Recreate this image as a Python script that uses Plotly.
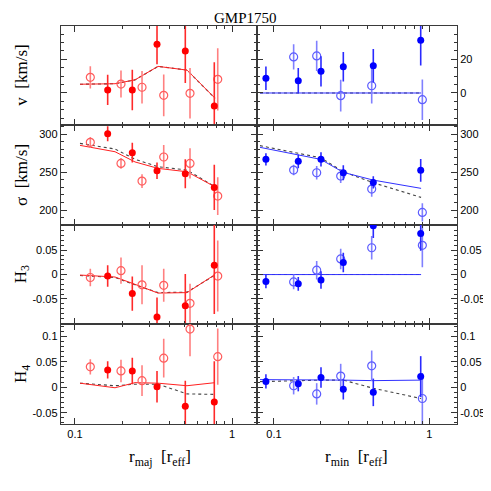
import plotly.graph_objects as go
from plotly.subplots import make_subplots

# radii of the data points and of the model curves
r_maj_fill = [0.1615, 0.2317, 0.3329, 0.504, 0.771]
r_maj_open = [0.1252, 0.1963, 0.2672, 0.3673, 0.540, 0.811]
r_maj_model = [0.1076, 0.1798, 0.2411, 0.3379, 0.5169, 0.7787]
r_min_fill = [0.0888, 0.1434, 0.2008, 0.2795, 0.4359, 0.880]
r_min_open = [0.1339, 0.1884, 0.2689, 0.4257, 0.9016]
r_min_model = [0.0813, 0.1386, 0.2, 0.2795, 0.4359, 0.885]

# v
v_maj_fill = [1.8, 1.8, 29.0, 24.9, -7.7]
v_maj_fill_err = [9, 12, 12, 19, 26]
v_maj_open = [9.3, 5.3, 3.4, -1.4, -0.2, 8.1]
v_maj_open_err = [6.6, 8, 9.7, 12.4, 15, 18.5]
v_maj_fit = [5.2, 5.5, 7.8, 15.8, 13.6, -3.1]
v_maj_fit2 = [5.2, 5.5, 7.8, 15.8, 13.6, -3.1]
v_min_fill = [8.7, 7.3, 12.9, 15.6, 16.2, 31.3]
v_min_fill_err = [7, 7.5, 9, 8.8, 10, 15]
v_min_open = [21.4, 22.0, -1.6, 4.3, -4.0]
v_min_open_err = [7.5, 9, 9.4, 10.6, 12]
v_min_fit = [0, 0, 0, 0, 0, 0]
v_min_fit2 = [0, 0, 0, 0, 0, 0]

# sigma
s_maj_fill = [300.8, 275.7, 251.9, 247.9, 229.9]
s_maj_fill_err = [10, 13, 11, 19, 30]
s_maj_open = [289.4, 261.6, 238.2, 270.0, 261.6, 218.4]
s_maj_open_err = [7, 7, 9, 16, 20, 25]
s_maj_fit = [285.4, 277.0, 263.5, 255.0, 250.5, 230.7]
s_maj_fit2 = [288.0, 280.6, 267.0, 257.2, 252.8, 230.7]
s_min_fill = [266.9, 264.3, 266.9, 249.2, 236.5, 252.4]
s_min_fill_err = [8, 9, 9.5, 10, 8, 15]
s_min_open = [252.8, 249.2, 244.8, 227.6, 196.8]
s_min_open_err = [7, 9, 9, 10, 12]
s_min_fit = [282.8, 273.5, 266.9, 249.7, 239.5, 228.6]
s_min_fit2 = [285.0, 275.7, 269.0, 250.5, 236.0, 216.7]

# H3
h3_maj_fill = [-0.003, -0.039, -0.087, -0.064, 0.019]
h3_maj_fill_err = [0.022, 0.035, 0.04, 0.065, 0.1]
h3_maj_open = [-0.006, 0.008, -0.021, -0.022, -0.059, -0.003]
h3_maj_open_err = [0.018, 0.027, 0.04, 0.034, 0.04, 0.073]
h3_maj_fit = [-0.001, -0.005, -0.02, -0.038, -0.037, 0.0]
h3_maj_fit2 = [-0.002, -0.006, -0.021, -0.037, -0.036, -0.001]
h3_min_fill = [-0.014, -0.019, -0.011, 0.025, 0.1, 0.084]
h3_min_fill_err = [0.014, 0.014, 0.018, 0.02, 0.025, 0.035]
h3_min_open = [-0.015, 0.009, 0.032, 0.055, 0.06]
h3_min_open_err = [0.015, 0.019, 0.021, 0.024, 0.045]
h3_min_fit = [0, 0, 0, 0, 0, 0]
h3_min_fit2 = [0, 0, 0, 0, 0, 0]

# H4
h4_maj_fill = [0.034, 0.032, 0.001, -0.037, -0.029]
h4_maj_fill_err = [0.017, 0.026, 0.031, 0.05, 0.08]
h4_maj_open = [0.04, 0.032, 0.013, 0.057, 0.114, 0.06]
h4_maj_open_err = [0.015, 0.022, 0.03, 0.038, 0.053, 0.055]
h4_maj_fit = [0.008, -0.001, 0.009, 0.008, 0.003, 0.009]
h4_maj_fit2 = [0.008, 0.003, 0.006, 0.006, -0.013, -0.014]
h4_min_fill = [0.0115, 0.007, 0.019, -0.004, -0.01, 0.021]
h4_min_fill_err = [0.014, 0.015, 0.02, 0.02, 0.027, 0.04]
h4_min_open = [0.003, -0.013, 0.022, 0.042, -0.022]
h4_min_open_err = [0.017, 0.021, 0.024, 0.03, 0.05]
h4_min_fit = [0.015, 0.015, 0.014, 0.014, 0.013, 0.014]
h4_min_fit2 = [0.011, 0.013, 0.014, 0.014, -0.002, -0.022]

# the page body has an 8px margin, so the figure is drawn 8px smaller and positions are shifted
OFF = 8
W = H = 491 - OFF
SERIF = 'Liberation Serif, Times New Roman, serif'
SANS = 'Liberation Sans, Arial, sans-serif'


def px_x(px):
    return (px - OFF) / W


def px_y(py):
    return 1 - (py - OFF) / H


fig = make_subplots(rows=4, cols=2, horizontal_spacing=0, vertical_spacing=0)

colors = {
    'maj': dict(fill='#ff0000', fill_err='#ff2a2a', open='#ff5c5c', open_err='#ff8080', line='#ff2020'),
    'min': dict(fill='#0000ff', fill_err='#2a2aff', open='#5c5cff', open_err='#8080ff', line='#3030ff'),
}


def add_panel(row, col, side, rf, yf, ef, ro, yo, eo, rm, ym, ym2):
    c = colors[side]
    # model curves
    fig.add_trace(go.Scatter(x=rm, y=ym2, mode='lines',
                             line=dict(color='#444444', width=1.1, dash='dot')), row=row, col=col)
    fig.add_trace(go.Scatter(x=rm, y=ym, mode='lines',
                             line=dict(color=c['line'], width=1)), row=row, col=col)
    # open symbols
    fig.add_trace(go.Scatter(x=ro, y=yo, mode='markers',
                             marker=dict(symbol='circle-open', size=8, color=c['open'], line=dict(width=1.2)),
                             error_y=dict(type='data', array=eo, width=0, thickness=1.6, color=c['open_err'])),
                  row=row, col=col)
    # filled symbols
    fig.add_trace(go.Scatter(x=rf, y=yf, mode='markers',
                             marker=dict(symbol='circle', size=7, color=c['fill']),
                             error_y=dict(type='data', array=ef, width=0, thickness=1.6, color=c['fill_err'])),
                  row=row, col=col)


add_panel(1, 1, 'maj', r_maj_fill, v_maj_fill, v_maj_fill_err, r_maj_open, v_maj_open, v_maj_open_err,
          r_maj_model, v_maj_fit, v_maj_fit2)
add_panel(1, 2, 'min', r_min_fill, v_min_fill, v_min_fill_err, r_min_open, v_min_open, v_min_open_err,
          r_min_model, v_min_fit, v_min_fit2)
add_panel(2, 1, 'maj', r_maj_fill, s_maj_fill, s_maj_fill_err, r_maj_open, s_maj_open, s_maj_open_err,
          r_maj_model, s_maj_fit, s_maj_fit2)
add_panel(2, 2, 'min', r_min_fill, s_min_fill, s_min_fill_err, r_min_open, s_min_open, s_min_open_err,
          r_min_model, s_min_fit, s_min_fit2)
add_panel(3, 1, 'maj', r_maj_fill, h3_maj_fill, h3_maj_fill_err, r_maj_open, h3_maj_open, h3_maj_open_err,
          r_maj_model, h3_maj_fit, h3_maj_fit2)
add_panel(3, 2, 'min', r_min_fill, h3_min_fill, h3_min_fill_err, r_min_open, h3_min_open, h3_min_open_err,
          r_min_model, h3_min_fit, h3_min_fit2)
add_panel(4, 1, 'maj', r_maj_fill, h4_maj_fill, h4_maj_fill_err, r_maj_open, h4_maj_open, h4_maj_open_err,
          r_maj_model, h4_maj_fit, h4_maj_fit2)
add_panel(4, 2, 'min', r_min_fill, h4_min_fill, h4_min_fill_err, r_min_open, h4_min_open, h4_min_open_err,
          r_min_model, h4_min_fit, h4_min_fit2)

# panel geometry in reference pixels
x_edges = [60.7, 257, 457]
y_edges = [26, 125.3, 224.7, 324, 424]
y_ranges = [[-19.2, 39.8], [180.6, 311.9], [-0.1014, 0.1023], [-0.072, 0.124]]
y_major = [20, 50, 0.05, 0.05]
y_minor = [5, 10, 0.01, 0.01]
x_ranges = [[-1.091, 0.159], [-1.109, 0.178]]

frame = dict(showline=True, linecolor='#3a3a3a', linewidth=1, mirror='allticks',
             ticks='inside', ticklen=6, tickwidth=1, tickcolor='#333333',
             showgrid=False, zeroline=False,
             tickfont=dict(family=SANS, size=11, color='black'))

for row in range(1, 5):
    for col in range(1, 3):
        dom_x = [px_x(x_edges[col - 1]), px_x(x_edges[col])]
        dom_y = [px_y(y_edges[row]), px_y(y_edges[row - 1])]
        fig.update_xaxes(type='log', range=x_ranges[col - 1], domain=dom_x,
                         tickvals=[0.1, 1], ticktext=['0.1', '1'],
                         showticklabels=(row == 4),
                         minor=dict(tickvals=[0.2, 0.3, 0.4, 0.5, 0.6, 0.7, 0.8, 0.9, 2, 3],
                                    ticks='inside', ticklen=3, tickcolor='#333333'),
                         row=row, col=col, **frame)
        fig.update_yaxes(range=y_ranges[row - 1], domain=dom_y,
                         dtick=y_major[row - 1], tick0=0,
                         side='left' if col == 1 else 'right',
                         showticklabels=not (row == 1 and col == 1),
                         minor=dict(dtick=y_minor[row - 1], tick0=0, ticks='inside', ticklen=3,
                                    tickcolor='#333333'),
                         row=row, col=col, **frame)

fig.update_yaxes(tickvals=[-0.05, 0, 0.05], ticktext=['-0.05', '0', '0.05'], row=3)
fig.update_yaxes(tickvals=[-0.05, 0, 0.05, 0.1], ticktext=['-0.05', '0', '0.05', '0.1'], row=4)

# axis titles
y_titles = ['v  [km/s]', 'σ  [km/s]', 'H<sub>3</sub>', 'H<sub>4</sub>']
for i, t in enumerate(y_titles):
    yc = (y_edges[i] + y_edges[i + 1]) / 2
    fig.add_annotation(x=px_x(22), y=px_y(yc), xref='paper', yref='paper', text=t, textangle=-90,
                       xanchor='center', yanchor='middle',
                       showarrow=False, font=dict(family=SERIF, size=17, color='black'))

fig.add_annotation(x=px_x(160), y=px_y(458), xref='paper', yref='paper',
                   text='r<sub>maj</sub>  [r<sub>eff</sub>]', showarrow=False,
                   xanchor='center', yanchor='middle',
                   font=dict(family=SERIF, size=17, color='black'))
fig.add_annotation(x=px_x(356), y=px_y(458), xref='paper', yref='paper',
                   text='r<sub>min</sub>  [r<sub>eff</sub>]', showarrow=False,
                   xanchor='center', yanchor='middle',
                   font=dict(family=SERIF, size=17, color='black'))
# title sits just inside the top of the figure
fig.add_annotation(x=px_x(245), y=1, xref='paper', yref='paper', text='GMP1750',
                   xanchor='center', yanchor='top',
                   showarrow=False, font=dict(family=SERIF, size=15, color='black'))

fig.update_layout(width=W, height=H, margin=dict(l=0, r=0, t=0, b=0),
                  showlegend=False, plot_bgcolor='white', paper_bgcolor='white')

fig.write_html('out.html')
